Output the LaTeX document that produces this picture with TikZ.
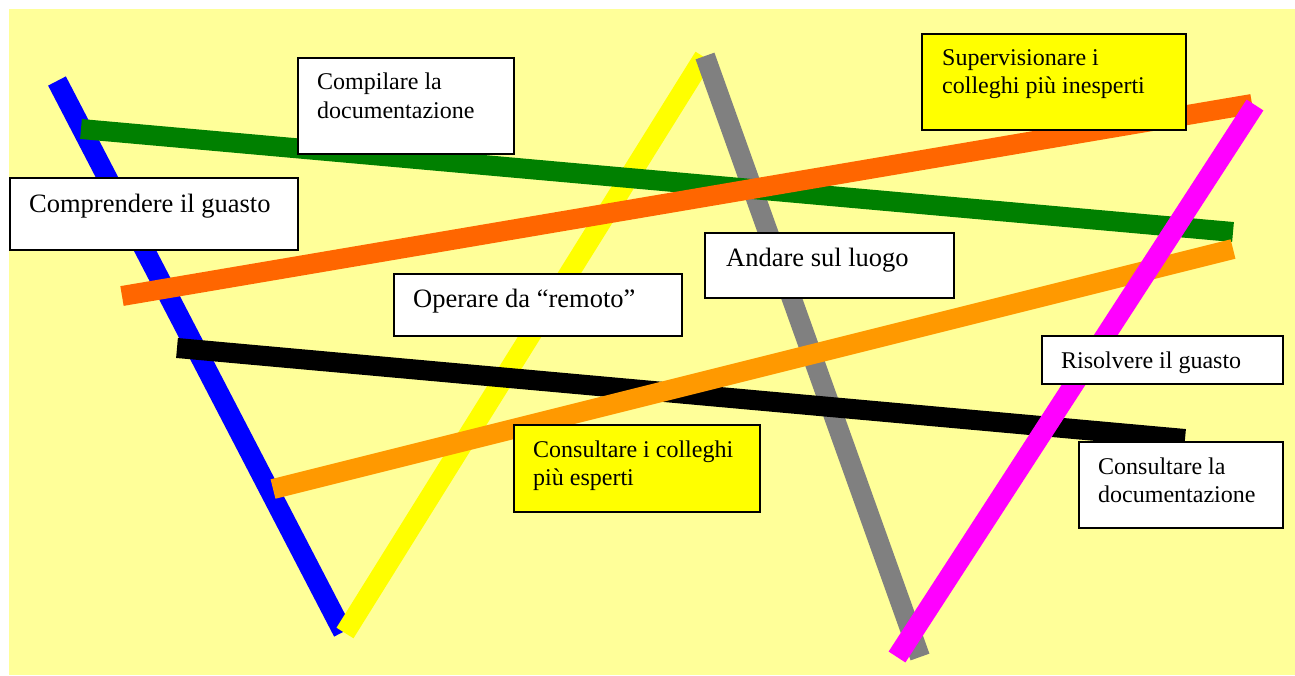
\documentclass[tikz,border=0pt]{standalone}
\usepackage{fontspec}
\setmainfont{Liberation Serif}
\definecolor{bgyellow}{HTML}{FFFF99}
\definecolor{lblue}{HTML}{0000FF}
\definecolor{lgreen}{HTML}{008000}
\definecolor{lorange}{HTML}{FF6600}
\definecolor{llorange}{HTML}{FF9900}
\definecolor{lyellow}{HTML}{FFFF00}
\definecolor{lgray}{HTML}{808080}
\definecolor{lmagenta}{HTML}{FF00FF}
\begin{document}
\begin{tikzpicture}[x=1pt,y=-1pt,
  bar/.style={line width=20pt, line cap=butt},
  box/.style={draw=black, line width=2pt, fill=white, inner sep=0pt, anchor=north west},
  ybox/.style={box, fill=lyellow},
  big/.style={anchor=base west, inner sep=0pt, font=\fontsize{26.5}{30}\selectfont},
  small/.style={anchor=base west, inner sep=0pt, font=\fontsize{24}{28}\selectfont}
]
\useasboundingbox (0,0) rectangle (1295,675);
\fill[bgyellow] (9,9) rectangle (1295,675);

% bars
\draw[bar, lblue] (57,81) -- (343,632);
\draw[bar, lyellow] (345,633) -- (704,57);
\draw[bar, lgray] (705,56) -- (920,657);
\draw[bar, lgreen] (81,129) -- (1233,232);
\draw[bar, lorange] (122,296) -- (1252,104);
\draw[bar, black] (177,348) -- (1185,439);
\draw[bar, llorange] (273,489) -- (1233,249);
\draw[bar, lmagenta] (1255,105) -- (897,657);

% boxes
\node[box, minimum width=288pt, minimum height=72pt,
  label={[big, xshift=20pt, yshift=-35pt]north west:Comprendere il guasto}] (comp) at (9,177) {};
\node[box, minimum width=216pt, minimum height=96pt,
  label={[small, xshift=20pt, yshift=-32pt]north west:\parbox[t]{190pt}{\baselineskip=29pt Compilare la\\documentazione}}] (compil) at (297,57) {};
\node[box, minimum width=288pt, minimum height=62pt,
  label={[big, xshift=20pt, yshift=-34pt]north west:Operare da “remoto”}] (oper) at (393,273) {};
\node[box, minimum width=249pt, minimum height=65pt,
  label={[big, xshift=22pt, yshift=-34pt]north west:Andare sul luogo}] (andare) at (704,232) {};
\node[ybox, minimum width=264pt, minimum height=96pt,
  label={[small, xshift=21pt, yshift=-32pt]north west:\parbox[t]{240pt}{\baselineskip=28pt Supervisionare i\\colleghi più inesperti}}] (superv) at (921,33) {};
\node[box, minimum width=241pt, minimum height=48pt,
  label={[small, xshift=20pt, yshift=-33pt]north west:Risolvere il guasto}] (risolv) at (1041,335) {};
\node[box, minimum width=204pt, minimum height=86pt,
  label={[small, xshift=20pt, yshift=-33pt]north west:\parbox[t]{180pt}{\baselineskip=28pt Consultare la\\documentazione}}] (consdoc) at (1078,441) {};
\node[ybox, minimum width=246pt, minimum height=87pt,
  label={[small, xshift=20pt, yshift=-33pt]north west:\parbox[t]{220pt}{\baselineskip=28pt Consultare i colleghi\\più esperti}}] (conscol) at (513,424) {};
\end{tikzpicture}
\end{document}
